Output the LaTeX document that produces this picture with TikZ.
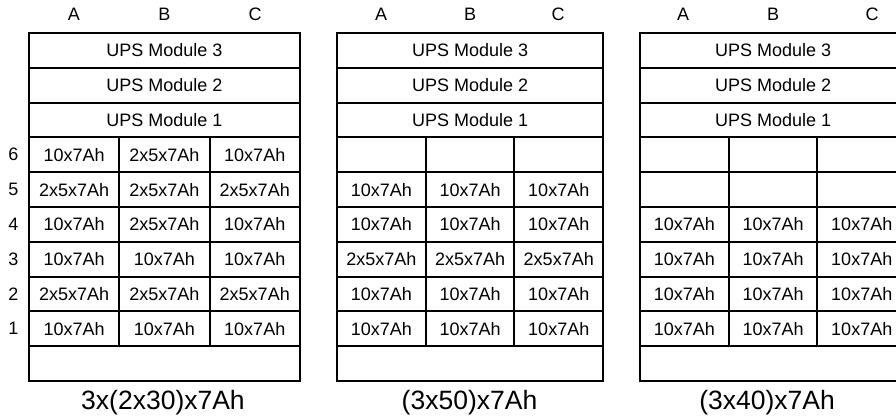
\documentclass[tikz,border=0pt]{standalone}
\usepackage{fontspec}
\setmainfont{Liberation Sans}
\usetikzlibrary{positioning}

\begin{document}
\begin{tikzpicture}[x=1pt, y=1pt,
  cell/.style={draw=black, line width=2pt, rectangle, minimum height=34.8pt,
    inner sep=0pt, font=\fontsize{18}{21}\selectfont},
  batA/.style={cell, minimum width=90.3pt},
  batB/.style={cell, minimum width=88.7pt},
  modA/.style={cell, minimum width=270.9pt},
  modB/.style={cell, minimum width=266.1pt},
  collabel/.style={anchor=base, font=\fontsize{18}{21}\selectfont},
  rowlabel/.style={font=\fontsize{18}{21}\selectfont},
  caption/.style={anchor=base, font=\fontsize{26.5}{30}\selectfont},
]
\useasboundingbox (0,0) rectangle (896,417);

%--- Rack 1: 3x(2x30)x7Ah ---
\foreach \m [count=\k] in {3,2,1}
  \node[modA] (f1m\m) at (164.45, {384-34.8*(\k-0.5)}) {UPS Module \m};
\foreach \r/\a/\b/\c [count=\k from 4] in {6/10x7Ah/2x5x7Ah/10x7Ah,
    5/2x5x7Ah/2x5x7Ah/2x5x7Ah, 4/10x7Ah/2x5x7Ah/10x7Ah,
    3/10x7Ah/10x7Ah/10x7Ah, 2/2x5x7Ah/2x5x7Ah/2x5x7Ah,
    1/10x7Ah/10x7Ah/10x7Ah} {
  \node[batA] (f1a\r) at ( 74.15, {384-34.8*(\k-0.5)}) {\a};
  \node[batA] (f1b\r) at (164.45, {384-34.8*(\k-0.5)}) {\b};
  \node[batA] (f1c\r) at (254.75, {384-34.8*(\k-0.5)}) {\c};
  \node[rowlabel, left=6pt of f1a\r] (lvl\r) {\r};
}
\node[modA] (f1base) at (164.45, 53.4) {};

%--- Rack 2: (3x50)x7Ah ---
\foreach \m [count=\k] in {3,2,1}
  \node[modB] (f2m\m) at (470.05, {384-34.8*(\k-0.5)}) {UPS Module \m};
\foreach \r/\t [count=\k from 4] in {6/{}, 5/10x7Ah, 4/10x7Ah,
    3/2x5x7Ah, 2/10x7Ah, 1/10x7Ah} {
  \node[batB] (f2a\r) at (381.35, {384-34.8*(\k-0.5)}) {\t};
  \node[batB] (f2b\r) at (470.05, {384-34.8*(\k-0.5)}) {\t};
  \node[batB] (f2c\r) at (558.75, {384-34.8*(\k-0.5)}) {\t};
}
\node[modB] (f2base) at (470.05, 53.4) {};

%--- Rack 3: (3x40)x7Ah ---
\foreach \m [count=\k] in {3,2,1}
  \node[modB] (f3m\m) at (773.05, {384-34.8*(\k-0.5)}) {UPS Module \m};
\foreach \r/\t [count=\k from 4] in {6/{}, 5/{}, 4/10x7Ah,
    3/10x7Ah, 2/10x7Ah, 1/10x7Ah} {
  \node[batB] (f3a\r) at (684.35, {384-34.8*(\k-0.5)}) {\t};
  \node[batB] (f3b\r) at (773.05, {384-34.8*(\k-0.5)}) {\t};
  \node[batB] (f3c\r) at (861.75, {384-34.8*(\k-0.5)}) {\t};
}
\node[modB] (f3base) at (773.05, 53.4) {};

%--- Column headers ---
\foreach \x/\l in {74/A, 164.5/B, 255/C, 381/A, 470/B, 558/C, 683/A, 773/B, 872/C}
  \node[collabel] (col-\x) at (\x, 396.3) {\l};

%--- Captions ---
\node[caption] (cap1) at (163, 7) {3x(2x30)x7Ah};
\node[caption] (cap2) at (469.5, 7) {(3x50)x7Ah};
\node[caption] (cap3) at (767, 7) {(3x40)x7Ah};

\end{tikzpicture}
\end{document}
